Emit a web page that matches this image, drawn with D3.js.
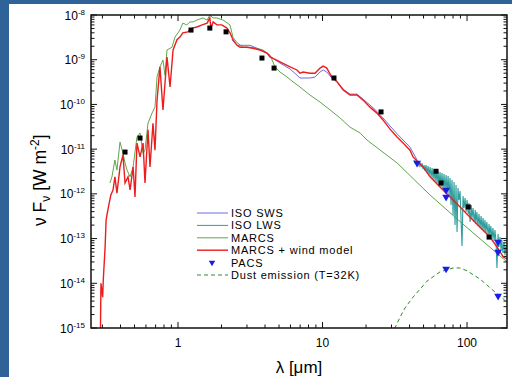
<!DOCTYPE html>
<meta charset="utf-8">
<script src="https://d3js.org/d3.v7.min.js"></script>
<style>
  body { margin: 0; }
  svg { display: block; font-family: "Liberation Sans", Arial, sans-serif; }
</style>
<body>
<div id="my_dataviz"></div>
<script>
// ---------------- data (wavelength in micron, nu F_nu in W m^-2) ----------------
const lambdaTicks = [1, 10, 100];
const fluxExponents = [-8, -9, -10, -11, -12, -13, -14, -15];

const isoSws = [[2.36,2.8e-9],[2.56,2.1e-9],[2.82,2.1e-9],[3.15,2.1e-9],[3.52,1.8e-9],[4.13,1.4e-9],[4.33,1.2e-9],
  [5.08,8.4e-10],[5.96,6.2e-10],[6.66,4.5e-10],[6.98,3.9e-10],[8.19,3.9e-10],[8.87,4.1e-10],[9.61,5.3e-10],[10.1,5.9e-10],
  [10.7,5.3e-10],[11.6,3.9e-10],[12.6,3.2e-10],[13.9,2.2e-10],[15.5,1.7e-10],[17.3,1.7e-10],[19.1,1.3e-10],[21.3,9.7e-11],
  [23.8,7.0e-11],[26.2,5.0e-11],[29.3,3.3e-11],[32.8,2.2e-11],[36.1,1.6e-11],[40.3,1.11e-11],[45.1,5.7e-12]];

const isoLws = [[43.0,5.70e-12],[43.7,4.88e-12],[44.4,5.41e-12],[45.1,4.41e-12],[45.8,5.14e-12],[46.6,4.19e-12],[47.3,4.88e-12],
  [48.1,3.98e-12],[48.8,4.88e-12],[49.6,3.59e-12],[50.4,4.41e-12],[51.2,3.24e-12],[52.0,4.41e-12],[52.9,2.92e-12],[53.7,4.19e-12],
  [54.6,2.63e-12],[55.5,3.98e-12],[56.4,2.38e-12],[57.3,3.78e-12],[58.2,2.14e-12],[59.1,3.59e-12],[60.1,1.93e-12],[61.0,3.41e-12],
  [62.0,1.75e-12],[63.0,3.24e-12],[64.0,1.50e-12],[65.0,3.07e-12],[66.1,1.42e-12],[67.1,2.92e-12],[68.2,1.28e-12],[69.3,2.77e-12],
  [70.4,1.16e-12],[71.6,2.63e-12],[72.7,1.04e-12],[73.9,2.50e-12],[75.1,9.40e-13],[76.3,2.26e-12],[77.5,5.62e-13],[78.7,2.04e-12],
  [80.0,3.36e-13],[81.3,1.84e-12],[82.6,2.01e-13],[83.9,1.57e-12],[85.3,1.40e-13],[86.6,1.35e-12],[88.0,7.27e-13],[89.5,1.16e-12],
  [90.9,2.59e-13],[92.3,6.81e-14],[93.8,8.93e-13],[95.3,4.81e-13],[96.9,8.06e-13],[98.4,3.92e-13],[100,7.27e-13],[102,3.53e-13],
  [103,6.23e-13],[105,2.34e-13],[107,5.62e-13],[108,2.73e-13],[110,4.81e-13],[112,2.34e-13],[114,4.34e-13],[115,2.11e-13],
  [117,3.92e-13],[119,1.90e-13],[121,3.53e-13],[123,1.72e-13],[125,3.19e-13],[127,1.55e-13],[129,2.88e-13],[131,1.47e-13],
  [133,2.59e-13],[135,1.33e-13],[137,2.34e-13],[140,1.20e-13],[142,2.11e-13],[144,1.08e-13],[146,1.90e-13],[149,9.77e-14],
  [151,1.72e-13],[154,8.81e-14],[156,1.55e-13],[159,7.95e-14],[161,2.19e-14],[164,1.26e-13],[166,6.47e-14],[169,1.08e-13],
  [172,5.54e-14],[174,9.28e-14],[177,4.75e-14],[180,8.37e-14],[183,4.28e-14],[186,7.17e-14],[189,5.54e-14]];

const marcs = [[0.338,1.75e-12],[0.349,2.4e-12],[0.366,5.7e-12],[0.378,3.4e-12],[0.397,1.44e-11],[0.416,8.2e-12],[0.430,4.9e-12],
  [0.444,3.4e-12],[0.466,2.4e-12],[0.489,4.0e-12],[0.520,1.87e-11],[0.546,2.3e-11],[0.573,8.0e-12],[0.591,9.5e-12],[0.620,3.8e-11],
  [0.661,6.4e-11],[0.693,8.7e-11],[0.716,4.1e-10],[0.750,6.9e-10],[0.787,9.8e-10],[0.813,4.5e-10],[0.839,1.65e-9],[0.909,1.9e-9],
  [0.953,3.2e-9],[1.03,4.6e-9],[1.08,6.6e-9],[1.15,6.0e-9],[1.21,7.0e-9],[1.27,7.0e-9],[1.35,7.7e-9],[1.49,8.6e-9],[1.59,7.7e-9],
  [1.66,1.0e-8],[1.75,8.6e-9],[1.86,8.6e-9],[2.05,7.7e-9],[2.29,6.0e-9],[2.40,3.2e-9],[2.56,2.4e-9],[2.82,1.9e-9],[3.15,1.9e-9],
  [3.52,1.8e-9],[3.87,1.65e-9],[4.33,1.27e-9],[4.69,6.9e-10],[5.08,5.3e-10],[5.68,4.1e-10],[6.25,3.2e-10],[6.98,2.45e-10],
  [8.19,1.62e-10],[9.61,1.13e-10],[11.3,7.5e-11],[13.2,5.0e-11],[15.5,3.1e-11],[18.2,2.3e-11],[20.3,1.6e-11],[32.8,4.9e-12],
  [55.5,9.4e-13],[93.8,2.1e-13],[161,4.7e-14],[189,3.0e-14]];

const marcsWind = [[0.29,5e-16],[0.293,1.0e-14],[0.301,4.9e-15],[0.304,1.18e-14],[0.313,6.5e-14],[0.318,2.6e-13],[0.324,3.7e-13],
  [0.334,6.2e-13],[0.343,9.4e-13],[0.355,1.22e-12],[0.366,2.4e-12],[0.378,1.04e-12],[0.397,4.0e-12],[0.416,7.4e-12],[0.430,1.75e-12],
  [0.451,2.4e-12],[0.466,1.22e-12],[0.489,4.0e-12],[0.504,8.5e-13],[0.520,1.37e-11],[0.546,6.7e-12],[0.573,1.37e-11],[0.591,1.75e-12],
  [0.620,2.7e-11],[0.640,4.0e-12],[0.671,3.8e-11],[0.693,9.5e-12],[0.716,1.25e-10],[0.750,6.9e-10],[0.787,7.5e-11],[0.839,1.15e-9],
  [0.881,2.45e-10],[0.924,1.65e-9],[0.984,2.8e-9],[1.03,3.2e-9],[1.08,4.0e-9],[1.17,4.2e-9],[1.25,5.1e-9],[1.35,5.4e-9],[1.47,6.0e-9],
  [1.59,6.6e-9],[1.66,8.6e-9],[1.69,5.1e-9],[1.75,7.0e-9],[1.86,6.0e-9],[2.01,6.0e-9],[2.18,5.1e-9],[2.29,4.0e-9],[2.40,2.8e-9],
  [2.56,2.1e-9],[2.69,1.9e-9],[3.00,1.9e-9],[3.30,1.8e-9],[3.69,1.65e-9],[4.13,1.4e-9],[4.33,1.15e-9],[5.08,8.9e-10],[5.96,6.9e-10],
  [6.66,5.9e-10],[6.98,5.0e-10],[7.33,5.3e-10],[8.19,5.0e-10],[8.87,5.0e-10],[9.61,6.5e-10],[10.1,7.2e-10],[10.7,6.5e-10],
  [11.6,4.1e-10],[12.6,3.2e-10],[13.9,2.1e-10],[15.5,1.62e-10],[17.3,1.62e-10],[19.1,1.25e-10],[21.3,8.7e-11],[23.8,6.4e-11],
  [26.2,4.5e-11],[29.3,2.8e-11],[32.8,1.87e-11],[36.1,1.37e-11],[40.3,9.5e-12],[42.3,6.7e-12],[49.6,4.0e-12],[55.5,2.4e-12],
  [65.0,1.42e-12],[76.3,8.5e-13],[89.5,5.1e-13],[105,3.0e-13],[123,1.8e-13],[144,1.08e-13],[161,6.5e-14],[178,3.9e-14],[189,3.5e-14]];

const photometry = [[0.430,8.6e-12],[0.546,1.77e-11],[1.23,4.6e-9],[1.66,5.1e-9],[2.15,4.2e-9],[3.81,1.09e-9],[4.62,6.5e-10],
  [12.0,3.9e-10],[25.4,6.8e-11],[61.0,3.2e-12],[66.1,1.75e-12],[102,5.1e-13],[142,1.08e-13]];

const pacs = [[45.1,4.9e-12],[71.6,1.22e-12],[71.6,8.5e-13],[164,8.4e-14],[164,5.0e-14],[71.6,2.1e-14],[164,5.2e-15]];

const dust = [[30.3,6.9e-16],[31.7,1.0e-15],[34.4,1.75e-15],[37.2,2.8e-15],[42.3,4.9e-15],[47.3,7.4e-15],[52.9,1.12e-14],
  [65.0,1.8e-14],[80.0,2.2e-14],[89.5,2.2e-14],[100,1.9e-14],[123,1.24e-14],[151,7.0e-15],[189,3.8e-15]];

const legendLabels = ["ISO SWS", "ISO LWS", "MARCS", "MARCS + wind model", "PACS", "Dust emission (T=32K)"];

// ---------------- layout ----------------
const width = 512, height = 377;
const plot = {left: 91, right: 507, top: 15, bottom: 328};

const svg = d3.select("#my_dataviz")
  .append("svg")
  .attr("width", width)
  .attr("height", height);

// slide background
svg.append("rect").attr("width", width).attr("height", height).attr("fill", "#2f6297");
svg.append("rect").attr("x", 9).attr("y", 4).attr("width", width - 9).attr("height", height - 4).attr("fill", "#fff");

const x = d3.scaleLog().domain([0.25, 189]).range([plot.left, plot.right]);
const y = d3.scaleLog().domain([1e-15, 1e-8]).range([plot.bottom, plot.top]);

svg.append("clipPath").attr("id", "clip")
  .append("rect")
  .attr("x", plot.left).attr("y", plot.top)
  .attr("width", plot.right - plot.left).attr("height", plot.bottom - plot.top);

const line = d3.line().x(d => x(d[0])).y(d => y(d[1]));
const g = svg.append("g").attr("clip-path", "url(#clip)");

g.append("path").datum(marcs).attr("d", line)
  .attr("fill", "none").attr("stroke", "#5ea64a").attr("stroke-width", 1);
g.append("path").datum(isoLws).attr("d", line)
  .attr("fill", "none").attr("stroke", "#2f9e9c").attr("stroke-width", 1.1);
g.append("path").datum(isoSws).attr("d", line)
  .attr("fill", "none").attr("stroke", "#6c6ce0").attr("stroke-width", 1);
g.append("path").datum(marcsWind).attr("d", line)
  .attr("fill", "none").attr("stroke", "#ee1c1c").attr("stroke-width", 1.4);
g.append("path").datum(dust).attr("d", line)
  .attr("fill", "none").attr("stroke", "#2e8b2e").attr("stroke-width", 1)
  .attr("stroke-dasharray", "4,3");

g.selectAll(".phot")
  .data(photometry)
  .join("rect")
    .attr("x", d => x(d[0]) - 2.5)
    .attr("y", d => y(d[1]) - 2.5)
    .attr("width", 5).attr("height", 5)
    .attr("fill", "#000");

const tri = d3.symbol().type(d3.symbolTriangle).size(26);
g.selectAll(".pacs")
  .data(pacs)
  .join("path")
    .attr("d", tri)
    .attr("transform", d => `translate(${x(d[0])},${y(d[1])}) rotate(180)`)
    .attr("fill", "#1c1ce8");

// ---------------- axes (ticks pointing inward on all four sides) ----------------
const frame = svg.append("g").attr("stroke", "#111").attr("fill", "none");
frame.append("rect")
  .attr("x", plot.left).attr("y", plot.top)
  .attr("width", plot.right - plot.left).attr("height", plot.bottom - plot.top)
  .attr("stroke-width", 1.5);

const xTicks = x.ticks().filter(v => v > 0.25 && v < 189);
xTicks.forEach(v => {
  const major = lambdaTicks.includes(v);
  const len = major ? 6 : 3.5;
  frame.append("line").attr("x1", x(v)).attr("x2", x(v)).attr("y1", plot.bottom).attr("y2", plot.bottom - len);
  frame.append("line").attr("x1", x(v)).attr("x2", x(v)).attr("y1", plot.top).attr("y2", plot.top + len);
});

const yTicks = y.ticks();
yTicks.forEach(v => {
  const major = Math.abs(Math.log10(v) - Math.round(Math.log10(v))) < 1e-6;
  const len = major ? 6 : 3.5;
  frame.append("line").attr("x1", plot.left).attr("x2", plot.left + len).attr("y1", y(v)).attr("y2", y(v));
  frame.append("line").attr("x1", plot.right).attr("x2", plot.right - len).attr("y1", y(v)).attr("y2", y(v));
});

// tick labels
svg.selectAll(".xlab")
  .data(lambdaTicks)
  .join("text")
    .attr("x", d => x(d))
    .attr("y", 347)
    .attr("text-anchor", "middle")
    .style("font-size", "12px")
    .text(d => d);

const ylab = svg.selectAll(".ylab")
  .data(fluxExponents)
  .join("text")
    .attr("x", 85)
    .attr("y", d => y(Math.pow(10, d)) + 4.5)
    .attr("text-anchor", "end")
    .style("font-size", "12px");
ylab.append("tspan").text("10");
ylab.append("tspan").attr("dy", -5).style("font-size", "8px").text(d => d);

// axis titles
svg.append("text")
  .attr("x", (plot.left + plot.right) / 2)
  .attr("y", 373)
  .attr("text-anchor", "middle")
  .style("font-size", "17px")
  .text("λ [μm]");

const yt = svg.append("text")
  .attr("transform", "translate(46,226) rotate(-90)")
  .attr("text-anchor", "start")
  .style("font-size", "17.5px");
yt.append("tspan").text("ν F");
yt.append("tspan").attr("dy", 4).style("font-size", "12px").text("ν");
yt.append("tspan").attr("dy", -4).text(" [W m");
yt.append("tspan").attr("dy", -7).style("font-size", "12px").text("-2");
yt.append("tspan").attr("dy", 7).text("]");

// ---------------- legend ----------------
const legendColor = ["#6c6ce0", "#2f9e9c", "#5ea64a", "#ee1c1c", "#1c1ce8", "#2e8b2e"];
const legendY = (i) => 213 + i * 12.4;
const legend = svg.append("g");
legendLabels.forEach((label, i) => {
  if (label === "PACS") {
    legend.append("path")
      .attr("d", d3.symbol().type(d3.symbolTriangle).size(18))
      .attr("transform", `translate(212,${legendY(i)}) rotate(180)`)
      .attr("fill", legendColor[i]);
  } else {
    legend.append("line")
      .attr("x1", 197).attr("x2", 228)
      .attr("y1", legendY(i)).attr("y2", legendY(i))
      .attr("stroke", legendColor[i])
      .attr("stroke-width", label === "MARCS + wind model" ? 1.4 : 1)
      .attr("stroke-dasharray", label.startsWith("Dust") ? "4,3" : null);
  }
  legend.append("text")
    .attr("x", 231)
    .attr("y", legendY(i) + 4)
    .style("font-size", "11px")
    .style("letter-spacing", "0.8px")
    .text(label);
});
</script>
</body>
